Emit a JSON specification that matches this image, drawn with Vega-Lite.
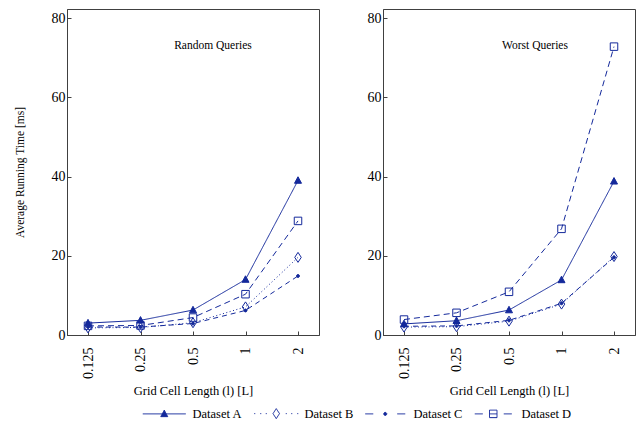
{
  "$schema": "https://vega.github.io/schema/vega-lite/v6.json",
  "padding": {"left": 13, "top": 8, "right": 5, "bottom": 0},
  "config": {
    "font": "Liberation Serif",
    "view": {"stroke": "#404040", "strokeWidth": 1},
    "axis": {
      "domainColor": "#404040", "tickColor": "#404040", "labelColor": "#000000", "titleColor": "#000000",
      "labelFont": "Liberation Serif", "titleFont": "Liberation Serif", "labelFontSize": 14,
      "titleFontSize": 11.5, "titleFontWeight": "normal", "grid": false, "tickSize": -4
    },
    "axisY": {"labelPadding": 6, "titlePadding": 26},
    "axisX": {"labelPadding": 16, "titlePadding": 6}
  },
  "data": {"values": [
    {"panel": "Random", "dataset": "Dataset A", "len": "0.125", "time": 3.0},
    {"panel": "Random", "dataset": "Dataset A", "len": "0.25", "time": 3.7},
    {"panel": "Random", "dataset": "Dataset A", "len": "0.5", "time": 6.3},
    {"panel": "Random", "dataset": "Dataset A", "len": "1", "time": 14.0},
    {"panel": "Random", "dataset": "Dataset A", "len": "2", "time": 39.0},
    {"panel": "Random", "dataset": "Dataset B", "len": "0.125", "time": 1.8},
    {"panel": "Random", "dataset": "Dataset B", "len": "0.25", "time": 1.9},
    {"panel": "Random", "dataset": "Dataset B", "len": "0.5", "time": 3.1},
    {"panel": "Random", "dataset": "Dataset B", "len": "1", "time": 7.1},
    {"panel": "Random", "dataset": "Dataset B", "len": "2", "time": 19.6},
    {"panel": "Random", "dataset": "Dataset C", "len": "0.125", "time": 2.0},
    {"panel": "Random", "dataset": "Dataset C", "len": "0.25", "time": 2.0},
    {"panel": "Random", "dataset": "Dataset C", "len": "0.5", "time": 2.9},
    {"panel": "Random", "dataset": "Dataset C", "len": "1", "time": 6.2},
    {"panel": "Random", "dataset": "Dataset C", "len": "2", "time": 14.9},
    {"panel": "Random", "dataset": "Dataset D", "len": "0.125", "time": 2.3},
    {"panel": "Random", "dataset": "Dataset D", "len": "0.25", "time": 2.4},
    {"panel": "Random", "dataset": "Dataset D", "len": "0.5", "time": 4.4},
    {"panel": "Random", "dataset": "Dataset D", "len": "1", "time": 10.3},
    {"panel": "Random", "dataset": "Dataset D", "len": "2", "time": 28.8},
    {"panel": "Worst", "dataset": "Dataset A", "len": "0.125", "time": 2.8},
    {"panel": "Worst", "dataset": "Dataset A", "len": "0.25", "time": 3.6},
    {"panel": "Worst", "dataset": "Dataset A", "len": "0.5", "time": 6.3},
    {"panel": "Worst", "dataset": "Dataset A", "len": "1", "time": 13.9},
    {"panel": "Worst", "dataset": "Dataset A", "len": "2", "time": 38.8},
    {"panel": "Worst", "dataset": "Dataset B", "len": "0.125", "time": 2.0},
    {"panel": "Worst", "dataset": "Dataset B", "len": "0.25", "time": 2.1},
    {"panel": "Worst", "dataset": "Dataset B", "len": "0.5", "time": 3.5},
    {"panel": "Worst", "dataset": "Dataset B", "len": "1", "time": 7.8},
    {"panel": "Worst", "dataset": "Dataset B", "len": "2", "time": 19.8},
    {"panel": "Worst", "dataset": "Dataset C", "len": "0.125", "time": 2.2},
    {"panel": "Worst", "dataset": "Dataset C", "len": "0.25", "time": 2.3},
    {"panel": "Worst", "dataset": "Dataset C", "len": "0.5", "time": 3.7},
    {"panel": "Worst", "dataset": "Dataset C", "len": "1", "time": 8.0},
    {"panel": "Worst", "dataset": "Dataset C", "len": "2", "time": 19.6},
    {"panel": "Worst", "dataset": "Dataset D", "len": "0.125", "time": 3.9},
    {"panel": "Worst", "dataset": "Dataset D", "len": "0.25", "time": 5.6},
    {"panel": "Worst", "dataset": "Dataset D", "len": "0.5", "time": 10.9},
    {"panel": "Worst", "dataset": "Dataset D", "len": "1", "time": 26.8},
    {"panel": "Worst", "dataset": "Dataset D", "len": "2", "time": 72.8}
  ]},
  "spacing": 46,
  "resolve": {"scale": {"color": "shared", "strokeDash": "shared", "shape": "shared", "fill": "shared"}, "legend": {"color": "shared"}},
  "hconcat": [
    {
      "width": 252, "height": 326,
      "title": {"text": "Random Queries", "offset": -51, "dx": 20, "baseline": "alphabetic", "fontSize": 11.5, "fontWeight": "normal", "font": "Liberation Serif", "color": "#000000"},
      "transform": [{"filter": "datum.panel === 'Random'"}],
      "encoding": {
        "x": {"field": "len", "type": "ordinal", "sort": ["0.125", "0.25", "0.5", "1", "2"], "scale": {"type": "point", "padding": 0.4}, "axis": {"title": "Grid Cell Length (l) [L]", "titleFontSize": 12.5, "labelAngle": 270}},
        "y": {"field": "time", "type": "quantitative", "scale": {"domain": [0, 82.3], "nice": false}, "axis": {"values": [0, 20, 40, 60, 80], "title": "Average Running Time [ms]"}}
      },
      "layer": [
        {
          "mark": {"type": "line", "strokeWidth": 1, "color": "#14299b"},
          "encoding": {
            "strokeDash": {"field": "dataset", "type": "nominal", "scale": {"range": [[1, 0], [1, 2.5], [5, 4], [6, 4]]}, "legend": null},
            "color": {"field": "dataset", "type": "nominal", "scale": {"domain": ["Dataset A", "Dataset B", "Dataset C", "Dataset D"], "range": ["#14299b", "#14299b", "#14299b", "#14299b"]},
              "legend": {
                "orient": "none", "legendX": 91, "legendY": 398, "direction": "horizontal", "title": null,
                "labelFontSize": 12.5, "labelFont": "Liberation Serif", "labelColor": "#000000", "symbolSize": 100, "labelOffset": 22, "columnPadding": 9,
                "encode": {"symbols": {"update": {
                  "shape": {"signal": "datum.value === 'Dataset A' ? 'M-4.3,0H4.3M0,-0.75L0.7,0.55L-0.7,0.55Z' : datum.value === 'Dataset B' ? 'M-4.4,0H-4.2M-3.2,0H-3M-2.1,0H-1.9M1.9,0H2.1M3,0H3.2M4.2,0H4.4M0,-1L0.65,0L0,1L-0.65,0Z' : datum.value === 'Dataset C' ? 'M-4,0H-2.4M2.4,0H4M0.3,0A0.3,0.3 0 1,1 -0.3,0A0.3,0.3 0 1,1 0.3,0Z' : 'M-3.7,0H-2.1M-0.75,0H0.75M2.1,0H3.7M-0.75,-0.75H0.75V0.75H-0.75Z'"},
                  "fill": {"signal": "datum.value === 'Dataset A' || datum.value === 'Dataset C' ? '#14299b' : 'transparent'"},
                  "stroke": {"value": "#14299b"},
                  "strokeWidth": {"value": 1},
                  "strokeDash": {"value": [1, 0]},
                  "opacity": {"value": 1}
                }}}
              }
            }
          }
        },
        {
          "mark": {"type": "point", "filled": true, "stroke": "#14299b", "strokeWidth": 1, "opacity": 1, "size": 100},
          "encoding": {
            "shape": {"field": "dataset", "type": "nominal", "scale": {"range": ["M0,-0.75L0.7,0.55L-0.7,0.55Z", "M0,-1L0.65,0L0,1L-0.65,0Z", "M0.3,0A0.3,0.3 0 1,1 -0.3,0A0.3,0.3 0 1,1 0.3,0Z", "M-0.75,-0.75H0.75V0.75H-0.75Z"]}, "legend": null},
            "fill": {"field": "dataset", "type": "nominal", "scale": {"range": ["#14299b", "transparent", "#14299b", "transparent"]}, "legend": null}
          }
        }
      ]
    },
    {
      "width": 252, "height": 326,
      "title": {"text": "Worst Queries", "offset": -51, "dx": 26, "baseline": "alphabetic", "fontSize": 11.5, "fontWeight": "normal", "font": "Liberation Serif", "color": "#000000"},
      "transform": [{"filter": "datum.panel === 'Worst'"}],
      "encoding": {
        "x": {"field": "len", "type": "ordinal", "sort": ["0.125", "0.25", "0.5", "1", "2"], "scale": {"type": "point", "padding": 0.4}, "axis": {"title": "Grid Cell Length (l) [L]", "titleFontSize": 12.5, "labelAngle": 270}},
        "y": {"field": "time", "type": "quantitative", "scale": {"domain": [0, 82.3], "nice": false}, "axis": {"values": [0, 20, 40, 60, 80], "title": null}}
      },
      "layer": [
        {
          "mark": {"type": "line", "strokeWidth": 1, "color": "#14299b"},
          "encoding": {
            "strokeDash": {"field": "dataset", "type": "nominal", "scale": {"range": [[1, 0], [1, 2.5], [5, 4], [6, 4]]}, "legend": null},
            "color": {"field": "dataset", "type": "nominal", "scale": {"domain": ["Dataset A", "Dataset B", "Dataset C", "Dataset D"], "range": ["#14299b", "#14299b", "#14299b", "#14299b"]}, "legend": null}
          }
        },
        {
          "mark": {"type": "point", "filled": true, "stroke": "#14299b", "strokeWidth": 1, "opacity": 1, "size": 100},
          "encoding": {
            "shape": {"field": "dataset", "type": "nominal", "scale": {"range": ["M0,-0.75L0.7,0.55L-0.7,0.55Z", "M0,-1L0.65,0L0,1L-0.65,0Z", "M0.3,0A0.3,0.3 0 1,1 -0.3,0A0.3,0.3 0 1,1 0.3,0Z", "M-0.75,-0.75H0.75V0.75H-0.75Z"]}, "legend": null},
            "fill": {"field": "dataset", "type": "nominal", "scale": {"range": ["#14299b", "transparent", "#14299b", "transparent"]}, "legend": null}
          }
        }
      ]
    }
  ]
}
